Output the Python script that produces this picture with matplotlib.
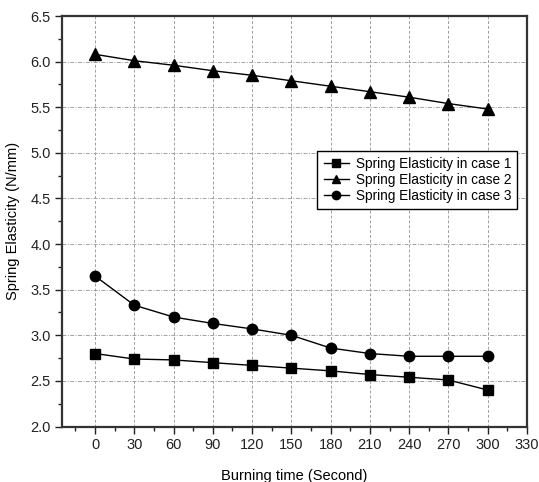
import matplotlib
matplotlib.use("Agg")
import matplotlib.pyplot as plt
from matplotlib.ticker import MultipleLocator

plt.rcParams['font.family'] = ['Liberation Sans', 'DejaVu Sans']

# burning time in seconds
time_s = [0, 30, 60, 90, 120, 150, 180, 210, 240, 270, 300]

# spring elasticity (N/mm) for the three cases
case1 = [2.80, 2.74, 2.73, 2.70, 2.67, 2.64, 2.61, 2.57, 2.54, 2.51, 2.40]
case2 = [6.08, 6.01, 5.96, 5.90, 5.85, 5.79, 5.73, 5.67, 5.61, 5.54, 5.48]
case3 = [3.65, 3.33, 3.20, 3.13, 3.07, 3.00, 2.86, 2.80, 2.77, 2.77, 2.77]

labels = ["Spring Elasticity in case 1",
          "Spring Elasticity in case 2",
          "Spring Elasticity in case 3"]

fig = plt.figure(figsize=(5.39, 4.82), dpi=100)
ax = fig.add_axes([0.1156, 0.1151, 0.8621, 0.8517])

ax.plot(time_s, case1, color='black', lw=1.0, marker='s', ms=7, label=labels[0])
ax.plot(time_s, case2, color='black', lw=1.0, marker='^', ms=8, label=labels[1])
ax.plot(time_s, case3, color='black', lw=1.0, marker='o', ms=7.5, label=labels[2])

ax.set_xlim(-25, 330)
ax.set_ylim(2.0, 6.5)
ax.xaxis.set_major_locator(MultipleLocator(30))
ax.xaxis.set_minor_locator(MultipleLocator(15))
ax.yaxis.set_major_locator(MultipleLocator(0.5))
ax.yaxis.set_minor_locator(MultipleLocator(0.25))
ax.yaxis.set_major_formatter(plt.FormatStrFormatter('%.1f'))

# vertical grid dashed, horizontal dash-dot
ax.xaxis.grid(True, which='major', color='#a0a0a0', lw=0.7, ls=(0, (3, 2)))
ax.yaxis.grid(True, which='major', color='#a0a0a0', lw=0.7, ls=(0, (4, 1.5, 1, 1.5)))
ax.set_axisbelow(True)

ax.tick_params(which='major', direction='out', length=5, width=1.0, labelsize=10.5, colors='#222222')
ax.tick_params(which='minor', direction='out', length=3, width=1.0, colors='#222222')
for side in ax.spines.values():
    side.set_linewidth(1.6)
    side.set_color('#333333')

ax.set_xlabel("Burning time (Second)", fontsize=10.5, labelpad=12)
ax.set_ylabel("Spring Elasticity (N/mm)", fontsize=10.5, labelpad=7)

leg = ax.legend(loc='upper left', bbox_to_anchor=(0.549, 0.672), borderaxespad=0,
                fontsize=9.8, frameon=True, fancybox=False, edgecolor='black',
                framealpha=1, handlelength=1.9, handletextpad=0.45, borderpad=0.45,
                labelspacing=0.15, markerscale=0.8)
leg.get_frame().set_linewidth(1.0)

fig.savefig("out.png", dpi=100)
